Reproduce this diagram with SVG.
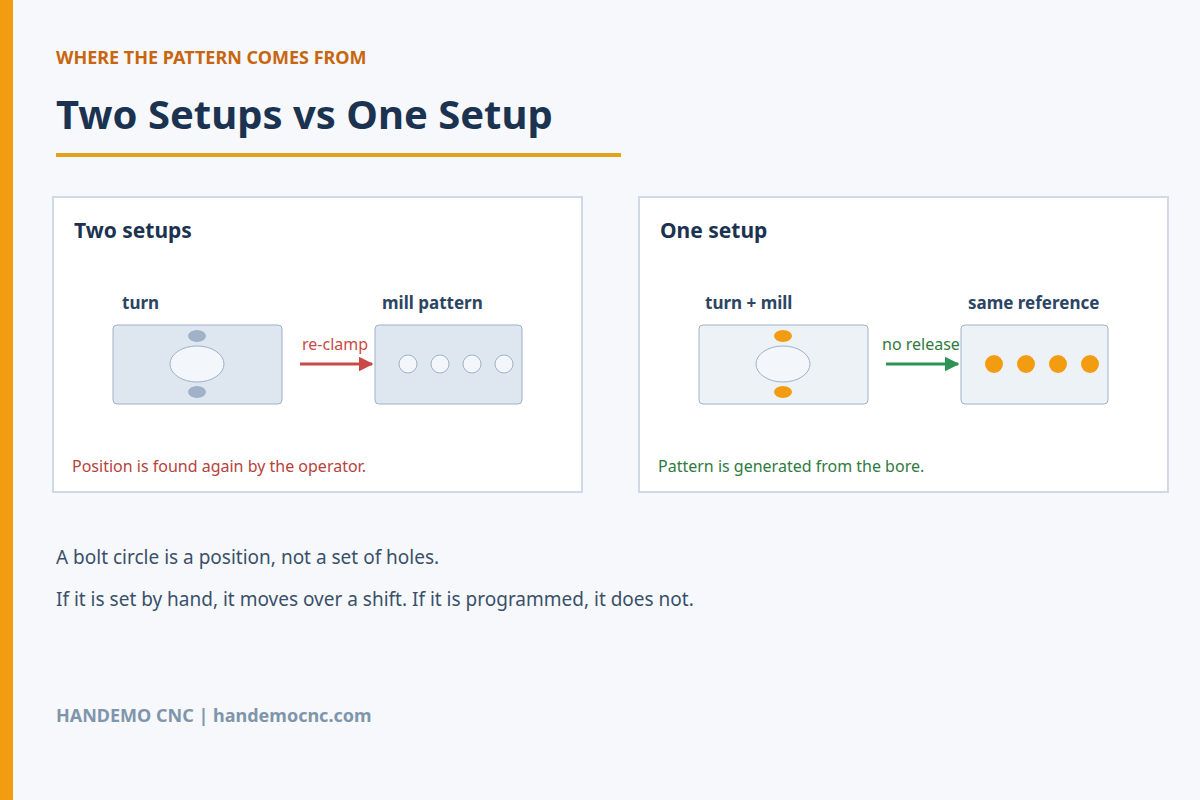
<svg xmlns="http://www.w3.org/2000/svg" width="1200" height="800" viewBox="0 0 1200 800">
<style>
text{font-family:"Noto Sans","Open Sans","DejaVu Sans",sans-serif}
.h{font-weight:700;fill:#1b3350}
.lbl{font-size:17px;font-weight:700;fill:#2b4563}
.panel{fill:#fff;stroke:#cfdae6;stroke-width:2}
.box{stroke:#9fb2c6;stroke-width:1}
.body{font-size:19px;fill:#3a506a}
</style>
<defs>
<marker id="ar" viewBox="0 0 10 10" refX="9" refY="5" markerWidth="5" markerHeight="5" orient="auto"><path d="M0,0L10,5L0,10z" fill="#c94a45"/></marker>
<marker id="ag" viewBox="0 0 10 10" refX="9" refY="5" markerWidth="5" markerHeight="5" orient="auto"><path d="M0,0L10,5L0,10z" fill="#2e9456"/></marker>
</defs>
<rect width="1200" height="800" fill="#f6f8fb"/>
<rect x="0" y="0" width="13" height="800" fill="#f29c12"/>
<text x="56" y="64" font-size="18" font-weight="700" fill="#c8660f">WHERE THE PATTERN COMES FROM</text>
<text x="56" y="129" font-size="40" class="h">Two Setups vs One Setup</text>
<rect x="56" y="153" width="565" height="4" fill="#e3a21c"/>
<g id="panel-left">
<rect class="panel" x="53" y="197" width="529" height="295"/>
<text x="74" y="238" font-size="21" class="h">Two setups</text>
<text x="72" y="472" font-size="16" fill="#b5433c">Position is found again by the operator.</text>
</g>
<g id="node-turn">
<text x="122" y="309" class="lbl">turn</text>
<rect class="box" x="113" y="325" width="169" height="79" rx="4" fill="#dee6f0"/>
<ellipse cx="197" cy="364" rx="27" ry="18" fill="#f3f6fa" stroke="#9fb2c6"/>
<ellipse cx="197" cy="336" rx="9" ry="6" fill="#9fb2c6"/>
<ellipse cx="197" cy="392" rx="9" ry="6" fill="#9fb2c6"/>
</g>
<g id="node-mill">
<text x="382" y="309" class="lbl">mill pattern</text>
<rect class="box" x="375" y="325" width="147" height="79" rx="4" fill="#dee6f0"/>
<g fill="#f3f6fa" stroke="#9fb2c6"><circle cx="408" cy="364" r="9"/><circle cx="440" cy="364" r="9"/><circle cx="472" cy="364" r="9"/><circle cx="504" cy="364" r="9"/></g>
</g>
<g id="panel-right">
<rect class="panel" x="639" y="197" width="529" height="295"/>
<text x="660" y="238" font-size="21" class="h">One setup</text>
<text x="658" y="472" font-size="16" fill="#2f7a3e">Pattern is generated from the bore.</text>
</g>
<g id="connectors">
<text x="302" y="350" font-size="16" fill="#c94a45">re-clamp</text>
<line x1="300" y1="364" x2="372" y2="364" stroke="#c94a45" stroke-width="3" marker-end="url(#ar)"/>
<text x="882" y="350" font-size="16" fill="#2f7a3e">no release</text>
<line x1="886" y1="364" x2="958" y2="364" stroke="#2e9456" stroke-width="3" marker-end="url(#ag)"/>
</g>
<g id="node-turnmill">
<text x="705" y="309" class="lbl">turn + mill</text>
<rect class="box" x="699" y="325" width="169" height="79" rx="4" fill="#edf2f7"/>
<ellipse cx="783" cy="364" rx="27" ry="18" fill="#f3f6fa" stroke="#9fb2c6"/>
<ellipse cx="783" cy="336" rx="9" ry="6" fill="#f29c12"/>
<ellipse cx="783" cy="392" rx="9" ry="6" fill="#f29c12"/>
</g>
<g id="node-same">
<text x="968" y="309" class="lbl">same reference</text>
<rect class="box" x="961" y="325" width="147" height="79" rx="4" fill="#edf2f7"/>
<g fill="#f29c12"><circle cx="994" cy="364" r="9"/><circle cx="1026" cy="364" r="9"/><circle cx="1058" cy="364" r="9"/><circle cx="1090" cy="364" r="9"/></g>
</g>
<text x="56" y="564" class="body">A bolt circle is a position, not a set of holes.</text>
<text x="56" y="606" class="body">If it is set by hand, it moves over a shift. If it is programmed, it does not.</text>
<text x="56" y="722" font-size="18" font-weight="700" fill="#7f95ab">HANDEMO CNC  |  handemocnc.com</text>
</svg>
